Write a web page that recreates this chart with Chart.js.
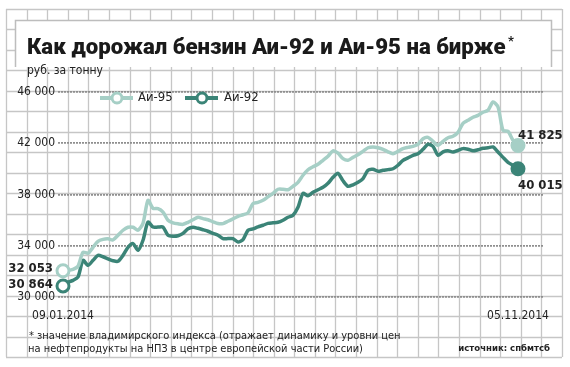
<!DOCTYPE html>
<html>
<head>
<meta charset="utf-8">
<script src="https://cdn.jsdelivr.net/npm/chart.js@4.4.1/dist/chart.umd.min.js"></script>
<style>
  html, body { margin: 0; padding: 0; background: #fff; }
</style>
</head>
<body>
<canvas id="fuel" width="570" height="367"></canvas>
<script>
// Series values, one point per trading step, 09.01.2014 .. 05.11.2014
const au95 = [
  32053, 32080, 32160, 32400, 33490, 33410, 33880, 34350, 34500, 34540,
  34460, 34820, 35210, 35440, 35440, 35210, 35750, 37550, 36920, 36900,
  36630, 35990, 35790, 35710, 35670, 35830, 36030, 36220, 36120, 36030,
  35870, 35730, 35730, 35910, 36100, 36300, 36420, 36570, 37290, 37390,
  37550, 37820, 38090, 38410, 38410, 38370, 38640, 38950, 39500, 39930,
  40160, 40360, 40670, 40980, 41410, 41220, 40800, 40670, 40900, 41100,
  41370, 41650, 41710, 41650, 41530, 41330, 41190, 41370, 41580, 41680,
  41760, 41920, 42350, 42460, 42150, 41840, 42150, 42430, 42540, 42850,
  43560, 43790, 44030, 44180, 44420, 44570, 45220, 44830, 43010, 42930,
  42230, 41825
];
const au92 = [
  30864, 31150, 31300, 31560, 32860, 32470, 32860, 33250, 33140, 32980,
  32830, 32790, 33250, 33880, 34170, 33640, 34430, 35850, 35460, 35460,
  35460, 34820, 34740, 34780, 34970, 35320, 35440, 35360, 35250, 35130,
  34970, 34820, 34560, 34560, 34560, 34290, 34480, 35210, 35320, 35480,
  35600, 35750, 35790, 35830, 35990, 36220, 36380, 37000, 38090, 37900,
  38170, 38370, 38560, 38870, 39340, 39650, 39070, 38640, 38760, 38950,
  39240, 39890, 39970, 39810, 39890, 39940, 40010, 40280, 40670, 40860,
  41060, 41180, 41530, 41920, 41760, 41060, 41330, 41410, 41320, 41450,
  41580, 41530, 41410, 41490, 41610, 41650, 41710, 41320, 40900, 40510,
  40280, 40015
];
const seriesNames = ['Аи-95', 'Аи-92'];
const dateLabels = ['09.01.2014', '05.11.2014'];
const yTicks = [30000, 34000, 38000, 42000, 46000];

const light = '#a6cfc6';
const dark = '#3b8477';
const narrow = '"Liberation Sans Narrow", "DejaVu Sans Condensed", sans-serif';

const fmt = v => String(Math.round(v)).replace(/\B(?=(\d{3})+(?!\d))/g, ' ');
const lastIdx = au95.length - 1;

// background: grid paper and the white title box
const backdrop = {
  id: 'backdrop',
  beforeDraw(chart) {
    const ctx = chart.ctx;
    ctx.save();
    ctx.fillStyle = '#fff';
    ctx.fillRect(0, 0, chart.width, chart.height);
    ctx.strokeStyle = '#c6c6c6';
    ctx.lineWidth = 1.3;
    const x0 = 6, x1 = 562, y0 = 9, y1 = 357;
    const cw = (x1 - x0) / 27, ch = (y1 - y0) / 17;
    ctx.beginPath();
    for (let i = 0; i <= 27; i++) {
      const x = Math.round(x0 + i * cw) + 0.5;
      ctx.moveTo(x, y0); ctx.lineTo(x, y1);
    }
    for (let j = 0; j <= 17; j++) {
      const y = Math.round(y0 + j * ch) + 0.5;
      ctx.moveTo(x0, y); ctx.lineTo(x1, y);
    }
    ctx.stroke();
    // title box
    ctx.fillStyle = '#fff';
    ctx.fillRect(15, 20, 537, 47);
    ctx.strokeStyle = '#bdbdbd';
    ctx.lineWidth = 1.5;
    ctx.beginPath();
    ctx.moveTo(15.5, 67); ctx.lineTo(15.5, 20.5); ctx.lineTo(551.5, 20.5); ctx.lineTo(551.5, 67);
    ctx.stroke();
    ctx.restore();
  }
};

// texts, legend, value labels
const annotations = {
  id: 'annotations',
  afterDraw(chart) {
    const ctx = chart.ctx;
    const xs = chart.scales.x, ys = chart.scales.y;
    ctx.save();
    ctx.fillStyle = '#1a1a1a';
    ctx.textBaseline = 'alphabetic';

    // title fitted to the reference width
    const title = 'Как дорожал бензин Аи-92 и Аи-95 на бирже';
    let size = 24;
    ctx.font = '900 ' + size + 'px Roboto, sans-serif';
    const w = ctx.measureText(title).width;
    size = size * 478 / w;
    ctx.font = '900 ' + size.toFixed(1) + 'px Roboto, sans-serif';
    ctx.fillText(title, 27, 54);
    ctx.font = 'bold 13px Roboto, sans-serif';
    ctx.fillText('*', 508, 45);

    ctx.font = '12px ' + narrow;
    ctx.fillStyle = '#222';
    ctx.fillText('руб. за тонну', 27, 74);

    // legend
    const items = [[seriesNames[0], light, 100, 138], [seriesNames[1], dark, 185, 224]];
    items.forEach(([name, col, lx, tx]) => {
      ctx.strokeStyle = col;
      ctx.lineWidth = 4;
      ctx.beginPath(); ctx.moveTo(lx, 98); ctx.lineTo(lx + 33, 98); ctx.stroke();
      ctx.fillStyle = '#fff';
      ctx.lineWidth = 3;
      ctx.beginPath(); ctx.arc(lx + 17, 98, 5, 0, Math.PI * 2); ctx.fill(); ctx.stroke();
      ctx.fillStyle = '#222';
      ctx.font = '13px ' + narrow;
      ctx.textAlign = 'left';
      ctx.textBaseline = 'middle';
      ctx.fillText(name, tx, 98);
    });

    // first and last values
    ctx.font = 'bold 13px ' + narrow;
    ctx.fillStyle = '#222';
    ctx.textBaseline = 'middle';
    ctx.textAlign = 'right';
    const xa = xs.getPixelForValue(0) - 10;
    ctx.fillText(fmt(au95[0]), xa, ys.getPixelForValue(au95[0]) - 2);
    ctx.fillText(fmt(au92[0]), xa, ys.getPixelForValue(au92[0]) - 1);
    ctx.textAlign = 'left';
    const xb = xs.getPixelForValue(lastIdx);
    ctx.fillText(fmt(au95[lastIdx]), xb, ys.getPixelForValue(au95[lastIdx]) - 10);
    ctx.fillText(fmt(au92[lastIdx]), xb, ys.getPixelForValue(au92[lastIdx]) + 17);

    // footnote and source
    ctx.font = '11px ' + narrow;
    ctx.fillStyle = '#222';
    ctx.fillText('* значение владимирского индекса (отражает динамику и уровни цен', 29, 336);
    ctx.fillText('на нефтепродукты на НПЗ в центре европейской части России)', 28, 349);
    ctx.textAlign = 'right';
    ctx.font = 'bold 9.5px ' + narrow;
    ctx.fillText('источник: спбмтсб', 550, 349);
    ctx.restore();
  }
};

const makeSet = (label, values, col) => ({
  label: label,
  data: values.map((v, i) => ({ x: i, y: v })),
  borderColor: col,
  borderWidth: 3.5,
  tension: 0.25,
  borderJoinStyle: 'round',
  borderCapStyle: 'round',
  clip: false,
  pointRadius: c => (c.dataIndex === 0 || c.dataIndex === lastIdx) ? 6 : 0,
  pointHoverRadius: 0,
  pointBorderWidth: 3,
  pointBorderColor: col,
  pointBackgroundColor: c => c.dataIndex === 0 ? '#fff' : col,
});

new Chart(document.getElementById('fuel'), {
  type: 'line',
  data: {
    datasets: [makeSet(seriesNames[0], au95, light), makeSet(seriesNames[1], au92, dark)]
  },
  options: {
    responsive: false,
    animation: false,
    devicePixelRatio: 1,
    layout: { padding: { top: 92, right: 27, bottom: 40, left: 0 } },
    plugins: { legend: { display: false }, tooltip: { enabled: false } },
    scales: {
      x: {
        type: 'linear',
        min: -1,
        max: 96,
        afterBuildTicks: axis => { axis.ticks = [{ value: 0 }, { value: lastIdx }]; },
        afterFit: axis => { axis.height = 30; },
        ticks: {
          autoSkip: false,
          maxRotation: 0,
          padding: 4,
          color: '#222',
          font: { family: narrow, size: 12 },
          callback: (v, i) => dateLabels[i]
        },
        grid: { display: false },
        border: { display: false }
      },
      y: {
        min: 30000,
        max: 46000,
        afterBuildTicks: axis => { axis.ticks = yTicks.map(v => ({ value: v })); },
        afterFit: axis => { axis.width = 58; },
        ticks: {
          padding: 3,
          color: '#222',
          font: { family: narrow, size: 12 },
          callback: v => fmt(v)
        },
        grid: { color: '#8f8f8f', lineWidth: 1.8, drawTicks: false },
        border: { display: false, dash: [2, 1] }
      }
    }
  },
  plugins: [backdrop, annotations]
});
</script>
</body>
</html>
